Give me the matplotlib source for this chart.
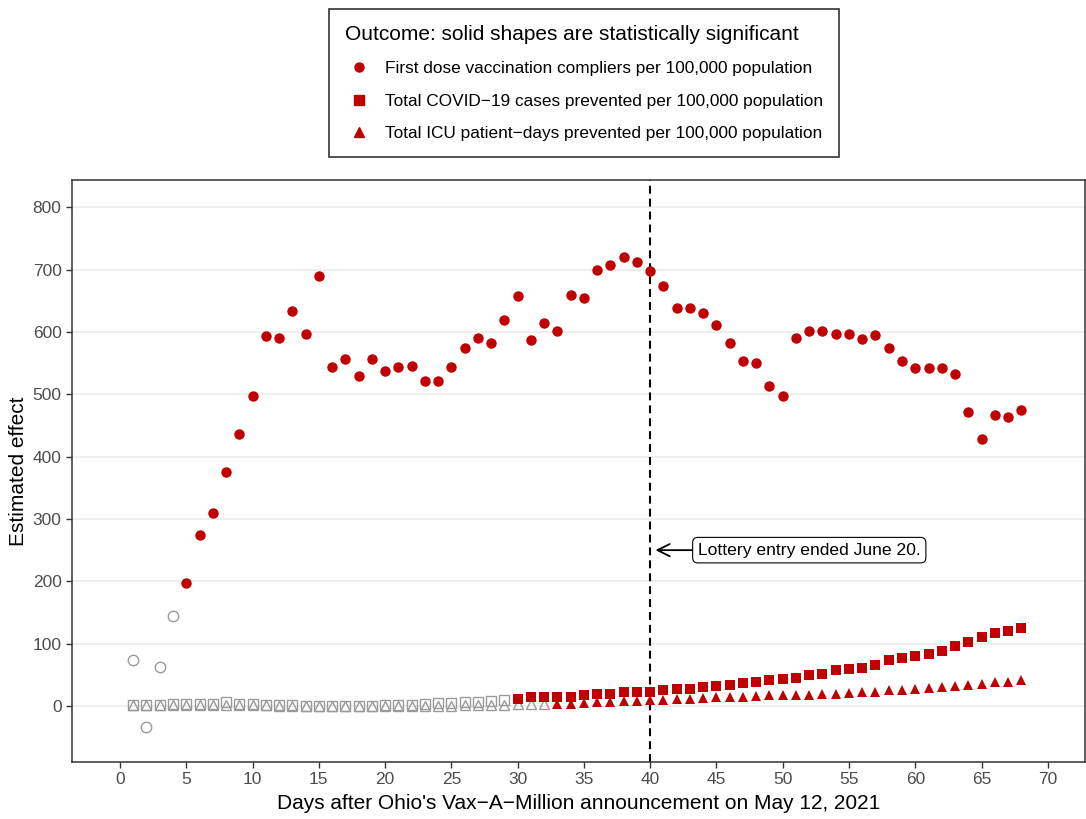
import numpy as np
import matplotlib.pyplot as plt
from matplotlib.lines import Line2D

plt.rcParams['font.family'] = ['Liberation Sans', 'DejaVu Sans']

# Days since the announcement
days = np.arange(1, 69)

# First dose vaccination compliers per 100,000
compliers = [74, -33, 63, 144, 197, 274, 309, 375, 436, 497,
             593, 590, 633, 596, 689, 543, 556, 529, 556, 538,
             543, 545, 522, 522, 543, 575, 590, 582, 619, 657,
             587, 615, 601, 660, 654, 699, 707, 720, 712, 697,
             673, 639, 638, 631, 611, 583, 554, 550, 514, 498,
             591, 601, 601, 596, 596, 588, 595, 575, 553, 542,
             542, 542, 532, 471, 428, 466, 463, 474]
compliers_sig_from = 5

# Total COVID-19 cases prevented per 100,000
cases = [1, 1, 1, 3, 4, 3, 3, 6, 4, 4,
         2, 1, 1, 0, 0, 0, 0, 0, 0, 1,
         1, 2, 4, 5, 5, 6, 7, 8, 10, 12,
         14, 14, 15, 15, 17, 19, 20, 23, 23, 23,
         25, 27, 28, 31, 32, 33, 37, 38, 41, 44,
         45, 50, 52, 57, 60, 61, 65, 73, 77, 80,
         83, 88, 97, 103, 110, 117, 121, 125]
cases_sig_from = 30

# Total ICU patient-days prevented per 100,000
icu = [1, 1, 1, 1, 1, 1, 1, 1, 1, 1,
       1, 0, 0, 0, 0, 0, 0, 0, 0, 0,
       0, 0, 0, 0, 0, 1, 1, 1, 2, 3,
       3, 3, 4, 4, 5, 6, 7, 8, 8, 9,
       10, 11, 12, 13, 14, 15, 15, 16, 17, 18,
       18, 18, 19, 20, 21, 22, 23, 25, 26, 28,
       29, 31, 32, 34, 36, 38, 39, 41]
icu_sig_from = 33

red = '#C00000'
grey = '#9A9A9A'

fig = plt.figure(figsize=(10.86, 8.19), dpi=100)
ax = fig.add_axes([0.0663, 0.0696, 0.9327, 0.7104])

ax.axvline(40, color='black', linestyle=(0, (3.8, 2.4)), linewidth=1.5, zorder=1)


def draw_series(values, sig_from, marker, size):
    values = np.asarray(values, dtype=float)
    sig = days >= sig_from
    ax.plot(days[~sig], values[~sig], linestyle='none', marker=marker,
            markersize=size, markerfacecolor='none', markeredgecolor=grey,
            markeredgewidth=1.0, zorder=3)
    ax.plot(days[sig], values[sig], linestyle='none', marker=marker,
            markersize=size, color=red, markeredgewidth=0, zorder=4)


draw_series(compliers, compliers_sig_from, 'o', 7.5)
draw_series(cases, cases_sig_from, 's', 7.0)
draw_series(icu, icu_sig_from, '^', 7.5)

ax.annotate('Lottery entry ended June 20.', xy=(40.4, 250), xytext=(43.6, 250),
            ha='left', va='center', fontsize=12.6,
            bbox=dict(boxstyle='round,pad=0.3,rounding_size=0.3', fc='white',
                      ec='black', lw=0.8),
            arrowprops=dict(arrowstyle='->,head_length=0.7,head_width=0.35',
                            color='black', lw=1.3, shrinkA=0, shrinkB=0),
            zorder=5)

ax.set_xlim(-3.62, 72.8)
ax.set_ylim(-89.8, 843.4)
ax.set_xticks(np.arange(0, 71, 5))
ax.set_yticks(np.arange(0, 801, 100))
ax.grid(axis='y', color='#EBEBEB', linewidth=1.2, zorder=0)
ax.set_axisbelow(True)
for s in ax.spines.values():
    s.set_color('#333333')
    s.set_linewidth(1.1)
ax.tick_params(colors='#333333', labelcolor='#4D4D4D', labelsize=12.5, length=4, width=1)

ax.set_xlabel("Days after Ohio's Vax\u2212A\u2212Million announcement on May 12, 2021",
              fontsize=15, labelpad=5)
ax.set_ylabel('Estimated effect', fontsize=15, labelpad=3)

handles = [
    Line2D([], [], linestyle='none', marker='o', color=red, markersize=6.5),
    Line2D([], [], linestyle='none', marker='s', color=red, markersize=6.5),
    Line2D([], [], linestyle='none', marker='^', color=red, markersize=6.5),
]
labels = [
    'First dose vaccination compliers per 100,000 population',
    'Total COVID\u221219 cases prevented per 100,000 population',
    'Total ICU patient\u2212days prevented per 100,000 population',
]
leg = fig.legend(handles, labels, title='Outcome: solid shapes are statistically significant',
                 loc='upper center', bbox_to_anchor=(0.5378, 1.0), fontsize=12.4,
                 title_fontsize=15, alignment='left', frameon=True, fancybox=False,
                 edgecolor='black', borderpad=0.95, labelspacing=1.0,
                 handletextpad=0.7, handlelength=1.6)
leg.get_frame().set_linewidth(1.2)

plt.savefig('out.png', dpi=100)
